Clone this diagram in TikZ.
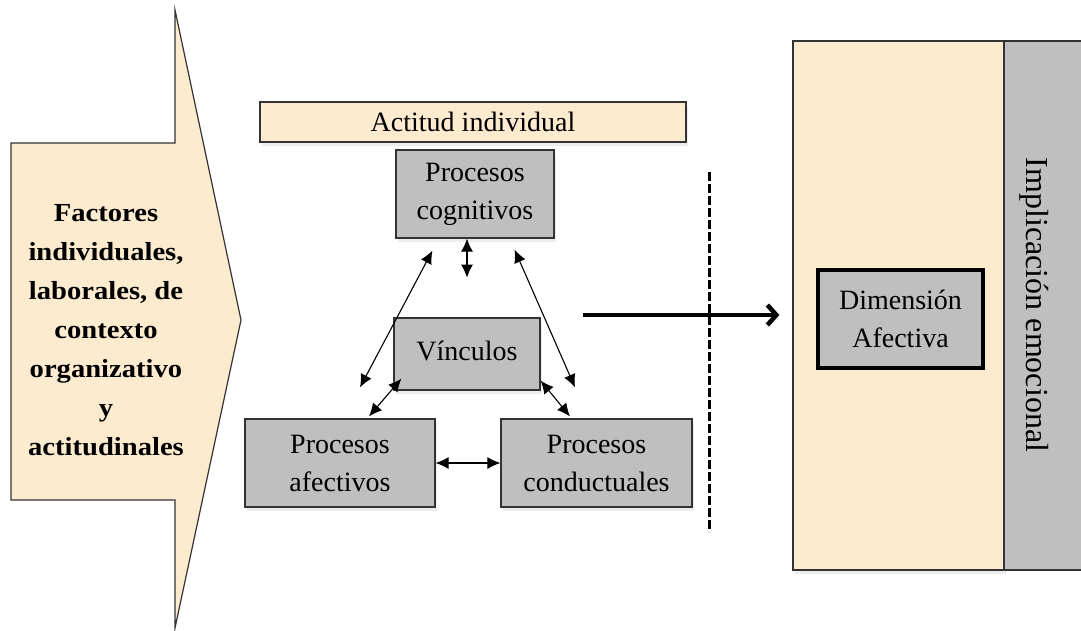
\documentclass[tikz,border=0pt]{standalone}
\usepackage{fontspec}
\setmainfont{Liberation Serif}
\newfontfamily\widefont{Liberation Serif}[FakeStretch=1.1]
\usetikzlibrary{arrows.meta}
\usetikzlibrary{shadows}
\definecolor{cream}{RGB}{252,235,206}
\definecolor{boxgrey}{RGB}{191,191,191}
\tikzset{
    proc/.style={rectangle, draw=black!80, fill=boxgrey, line width=1.2pt, align=center, inner sep=0pt, font=\fontsize{28}{38}\selectfont},
    band/.style={rectangle, draw=black!80, fill=cream, line width=1.2pt, inner sep=0pt},
    link/.style={{Latex[length=13pt,width=12pt]}-{Latex[length=13pt,width=12pt]}, line width=1.1pt},
    softshadow/.style={drop shadow={opacity=0.15, shadow xshift=2pt, shadow yshift=-4pt}}}

\begin{document}
\begin{tikzpicture}[x=1pt, y=-1pt]

            \useasboundingbox (0,0) rectangle (1081,630);

            % entrada
            \draw[fill=cream, line width=1.2pt, draw=black!80] (11,143) -- (175,143) -- (175,10) -- (241,320) -- (175,628) -- (175,500) -- (11,500) -- cycle;
            \node[align=center, font=\widefont\bfseries\fontsize{26}{39}\selectfont] (factores) at (106,330) {Factores\\individuales,\\laborales, de\\contexto\\organizativo\\y\\actitudinales};

            % panel derecho
            \node[band, minimum width=211pt, minimum height=529pt, softshadow] (panel) at (898.5,305.5) {};
            \fill[boxgrey] (1004,41) rectangle (1090,570);
            \draw[line width=1.2pt, black!80] (1090,41) -- (1004,41) -- (1004,570) -- (1090,570);
            \node[rotate=-90, font=\fontsize{32}{38}\selectfont] (implicacion) at (1034,305) {Implicación emocional};
            \node[proc, draw=black, line width=3.5pt, minimum width=165pt, minimum height=98pt] (dim) at (900.5,319) {Dimensión\\Afectiva};

            % actitud
            \node[band, minimum width=426pt, minimum height=40pt, font=\fontsize{28}{38}\selectfont, softshadow] (actitud) at (473,122) {Actitud individual};
            \node[proc, minimum width=158pt, minimum height=88pt, softshadow] (cog) at (475,194) {Procesos\\cognitivos};
            \node[proc, minimum width=146pt, minimum height=72pt, softshadow] (vin) at (467,354) {\raisebox{6pt}{Vínculos}};
            \node[proc, minimum width=190pt, minimum height=88pt, softshadow] (afe) at (340,463) {Procesos\\afectivos};
            \node[proc, minimum width=191pt, minimum height=88pt, softshadow] (con) at (596.5,463) {Procesos\\conductuales};

            \draw[link] ([xshift=-8pt]cog.south) -- ++(0,39);
            \draw[link] ([xshift=37pt,yshift=-12pt]cog.south west) -- ([xshift=20pt,yshift=31pt]afe.north);
            \draw[link] ([xshift=-40pt,yshift=-11pt]cog.south east) -- ([xshift=-21.5pt,yshift=31pt]con.north);
            \draw[link] ([xshift=8pt,yshift=12pt]vin.south west) -- ([xshift=29pt,yshift=2pt]afe.north);
            \draw[link] ([yshift=10pt]vin.south east) -- ([xshift=-26.5pt,yshift=2pt]con.north);
            \draw[link] (afe.east) -- (con.west);

            % flujo
            \coordinate (flujo) at (583,315);
            \draw[line width=4.5pt, -{Straight Barb[length=9pt,width=20pt]}, shorten >=13pt] (flujo) -- (flujo -| panel.west);
            \draw[line width=3pt, dash pattern=on 9pt off 3pt] (709,172) -- (709,532);

        \end{tikzpicture}
\end{document}
